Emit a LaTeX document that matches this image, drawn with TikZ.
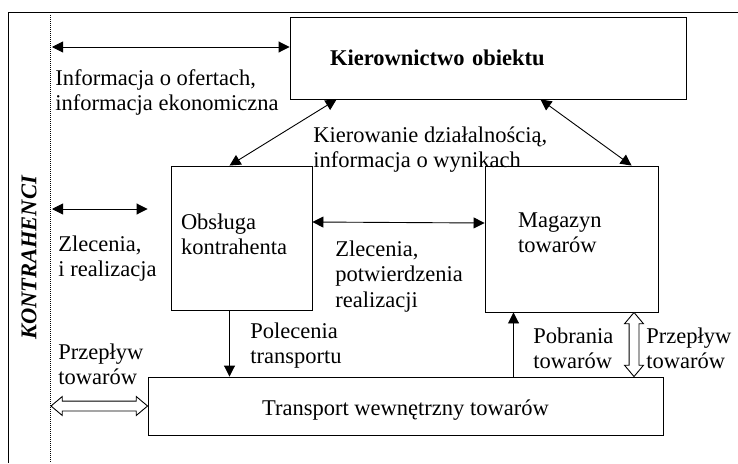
\documentclass[tikz,border=0pt]{standalone}
\usepackage{fontspec}
\setmainfont{Liberation Serif}
\usetikzlibrary{arrows.meta,shapes.arrows,calc}

\begin{document}
\begin{tikzpicture}[x=1pt,y=-1pt,line width=0.9pt,>={Triangle[length=11pt,width=11pt]},
	font=\fontsize{22.5}{25.5}\selectfont,
	box/.style={draw,rectangle,inner sep=0pt,align=left},
	txt/.style={anchor=north west,inner sep=0pt,align=left},
	hollow/.style={double arrow,draw,fill=white,inner xsep=0pt,inner ysep=4.5pt,
		double arrow head extend=4.5pt,double arrow tip angle=80}]
\useasboundingbox (0,0) rectangle (738,463);
\draw[line width=0.8pt] (8,463) -- (8,12) -- (738,12);
% left side: contractors
\coordinate (d_top)	at (50.5,15);
\coordinate (d_bot)	at (50.5,463);
\draw[densely dotted,line width=1pt] (d_top) -- (d_bot);
\node[rotate=90,font=\fontsize{22.5}{25.5}\selectfont\bfseries\itshape] (kontr) at (29,258) {KONTRAHENCI};
\coordinate (c_info)	at (52,47);
\coordinate (c_zlec)	at (52,209);
\coordinate (c_flow)	at (51,406);
% boxes
\node[box,minimum width=396pt,minimum height=82pt,text width=316pt,inner xsep=40pt,
	font=\fontsize{22.5}{25.5}\selectfont\bfseries]		(kier)	at (488,58)	{Kierownictwo obiektu};
\node[box,minimum width=141pt,minimum height=144pt,text width=121pt,inner xsep=10pt,
	text height=15pt,text depth=33pt]	(obs)	at (241.5,238)	{Obsługa\\kontrahenta};
\node[box,minimum width=173pt,minimum height=146pt,text width=107pt,inner xsep=33pt,
	text height=15pt,text depth=39pt]	(mag)	at (571.5,239)	{Magazyn\\towarów};
\node[box,minimum width=515pt,minimum height=58pt,text height=23pt,text depth=5pt]
						(trans)	at (405.5,406)	{Transport wewnętrzny towarów};
% connectors
\path[<->]	(c_info)	edge	(c_info -| kier.west)
		([xshift=47pt]kier.south west)	edge	([xshift=59pt]obs.north west)
		([xshift=-146pt]kier.south east)	edge	([xshift=147pt]mag.north west)
		(c_zlec)	edge	(c_zlec -| trans.west)
		([yshift=16pt]obs.east)	edge	([yshift=16pt]mag.west);
\path[->]	([xshift=-12pt]obs.south)	edge	([xshift=-12pt]obs.south |- trans.north)
		([xshift=-58pt]trans.north -| mag.south)	edge	([xshift=-58pt]mag.south);
\coordinate (f_top)	at ([xshift=62.5pt]mag.south);
\coordinate (f_bot)	at (f_top |- trans.north);
\coordinate (f_end)	at (c_flow -| trans.west);
\path let \p1=($(f_top)-(f_bot)$),\n1={veclen(\x1,\y1)} in
	node[hollow,rotate=90,minimum height=\n1] (flow_r) at ($(f_top)!.5!(f_bot)$) {};
\path let \p1=($(f_end)-(c_flow)$),\n1={veclen(\x1,\y1)} in
	node[hollow,minimum height=\n1] (flow_l) at ($(c_flow)!.5!(f_end)$) {};
% labels
\node[txt] (l_info)	at (55,69)	{Informacja o ofertach,\\informacja ekonomiczna};
\node[txt] (l_kier)	at (313,126)	{Kierowanie działalnością,\\informacja o wynikach};
\node[txt] (l_zlec)	at (58,235)	{Zlecenia,\\i realizacja};
\node[txt] (l_potw)	at (335,240)	{Zlecenia,\\potwierdzenia\\realizacji};
\node[txt] (l_pol)	at (250,322)	{Polecenia\\transportu};
\node[txt] (l_flow)	at (58,343)	{Przepływ\\towarów};
\node[txt] (l_pobr)	at (533,327)	{Pobrania\\towarów};
\node[txt] (l_flowr)	at (646,327)	{Przepływ\\towarów};
\end{tikzpicture}
\end{document}
